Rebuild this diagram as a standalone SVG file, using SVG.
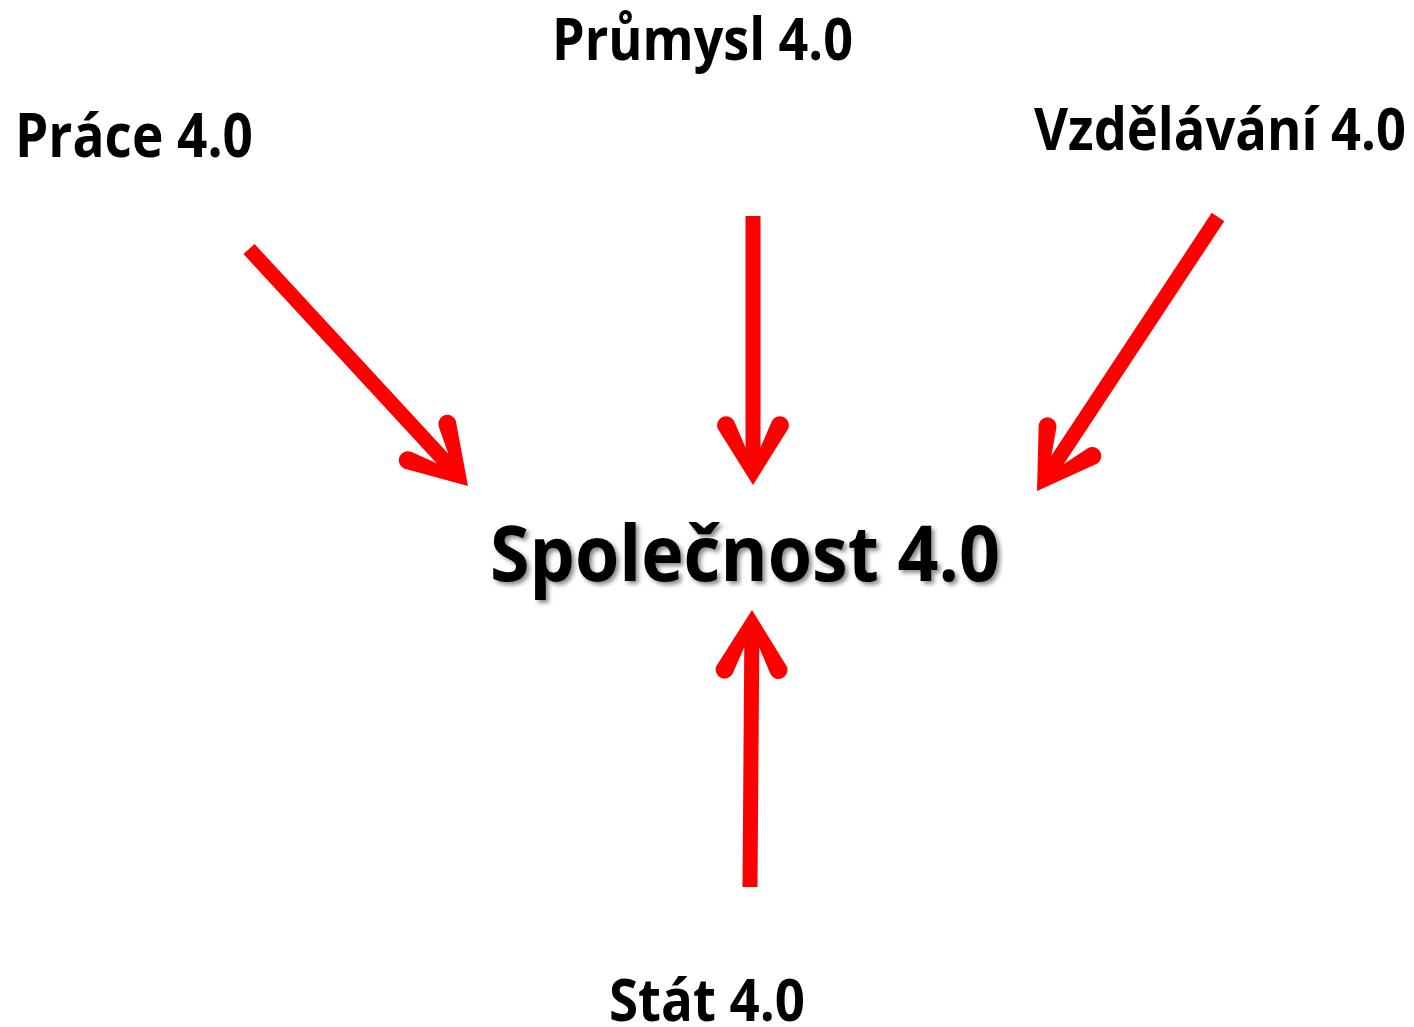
<svg xmlns="http://www.w3.org/2000/svg" width="1414" height="1027" viewBox="0 0 1414 1027">
  <defs>
    <style>
      .lbl { font-family: "Open Sans", "Noto Sans", "Liberation Sans", sans-serif; font-weight: 700; fill: #000; }
      .shaft { stroke: #ff0000; stroke-width: 15; stroke-linecap: butt; fill: none; }
      .head { fill: #ff0000; }
    </style>
    <path id="ah" d="M0,0 L-56.3,35.2 A9,9 0 0 1 -63.7,18.8 L-37.4,7.5 L-37.4,-7.5 L-63.7,-18.8 A9,9 0 0 1 -56.3,-35.2 Z"/>
    <filter id="shadow" x="-10%" y="-30%" width="120%" height="160%">
      <feDropShadow dx="3" dy="3" stdDeviation="2" flood-color="#000" flood-opacity="0.45"/>
    </filter>
  </defs>
  <rect width="1414" height="1027" fill="#fff"/>

  <g id="connectors">
    <line class="shaft" x1="249" y1="249" x2="454.4" y2="471.3"/>
    <use href="#ah" class="head" transform="translate(468,486) rotate(47.4)"/>
    <line class="shaft" x1="753" y1="216" x2="753" y2="465"/>
    <use href="#ah" class="head" transform="translate(753,485) rotate(90)"/>
    <line class="shaft" x1="1218" y1="217" x2="1048" y2="474.3"/>
    <use href="#ah" class="head" transform="translate(1037,491) rotate(123.45)"/>
    <line class="shaft" x1="750" y1="887" x2="751.9" y2="630"/>
    <use href="#ah" class="head" transform="translate(752,610) rotate(-89.59)"/>
  </g>

  <g id="node-prace">
    <text class="lbl" x="15" y="157" font-size="61" textLength="238" lengthAdjust="spacingAndGlyphs">Práce 4.0</text>
  </g>
  <g id="node-prumysl">
    <text class="lbl" x="552" y="60" font-size="59" textLength="301" lengthAdjust="spacingAndGlyphs">Průmysl 4.0</text>
  </g>
  <g id="node-vzdelavani">
    <text class="lbl" x="1034" y="150" font-size="59" textLength="372" lengthAdjust="spacingAndGlyphs">Vzdělávání 4.0</text>
  </g>
  <g id="node-spolecnost">
    <text class="lbl" x="490" y="581" font-size="77" textLength="510" lengthAdjust="spacingAndGlyphs" filter="url(#shadow)">Společnost 4.0</text>
  </g>
  <g id="node-stat">
    <text class="lbl" x="609" y="1021" font-size="59" textLength="196" lengthAdjust="spacingAndGlyphs">Stát 4.0</text>
  </g>
</svg>
